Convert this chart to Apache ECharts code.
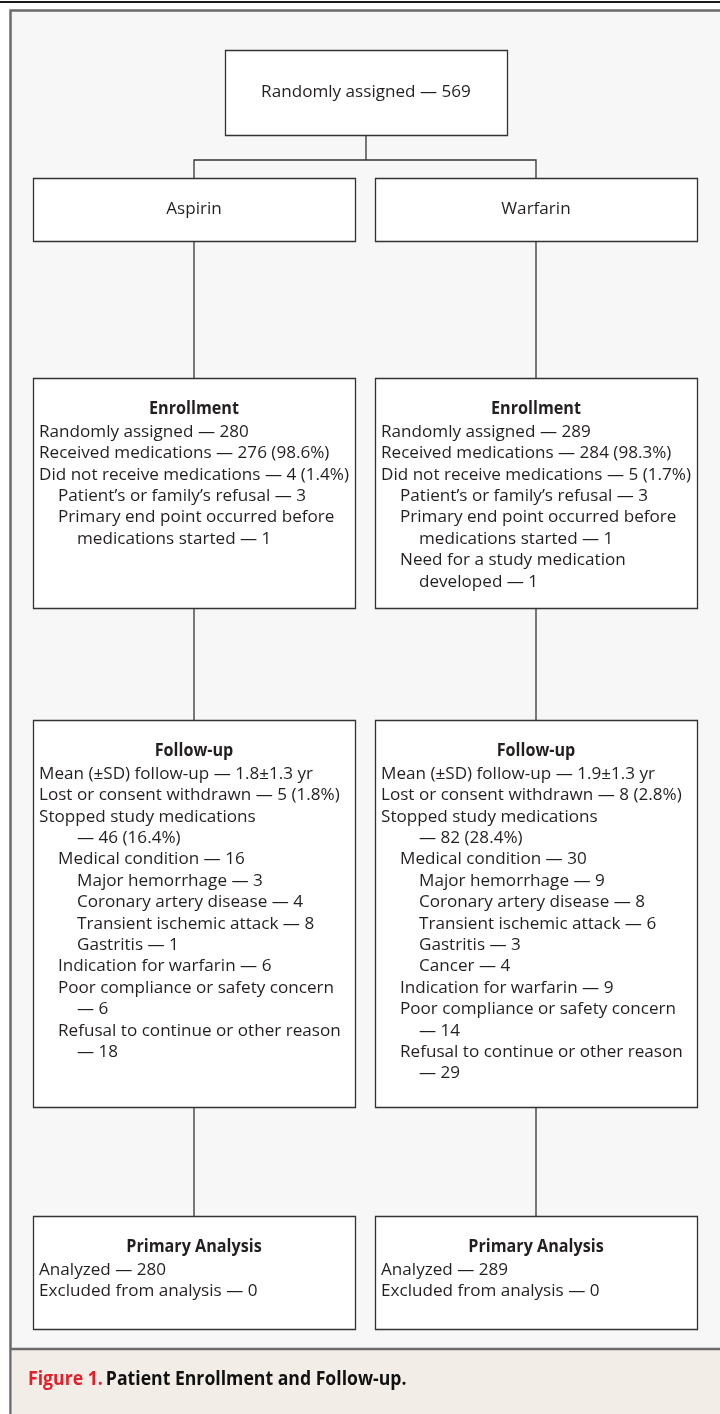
<!DOCTYPE html>
<html><head><meta charset="utf-8">
<script src="https://cdn.jsdelivr.net/npm/echarts@6/dist/echarts.min.js"></script>
<style>html,body{margin:0;padding:0;background:#fff}#chart{width:720px;height:1414px}</style>
</head><body><div id="chart"></div>
<script>
// ---------- DATA ----------
const totalRandomized = 'Randomly assigned — 569';
const armNames = ['Aspirin', 'Warfarin'];
const stageTitles = ['Enrollment', 'Follow-up', 'Primary Analysis'];
const enrollmentAspirin = [
  [0, 'Randomly assigned — 280'],
  [0, 'Received medications — 276 (98.6%)'],
  [0, 'Did not receive medications — 4 (1.4%)'],
  [1, 'Patient’s or family’s refusal — 3'],
  [1, 'Primary end point occurred before'],
  [2, 'medications started — 1']
];
const enrollmentWarfarin = [
  [0, 'Randomly assigned — 289'],
  [0, 'Received medications — 284 (98.3%)'],
  [0, 'Did not receive medications — 5 (1.7%)'],
  [1, 'Patient’s or family’s refusal — 3'],
  [1, 'Primary end point occurred before'],
  [2, 'medications started — 1'],
  [1, 'Need for a study medication'],
  [2, 'developed — 1']
];
const followUpAspirin = [
  [0, 'Mean (±SD) follow-up — 1.8±1.3 yr'],
  [0, 'Lost or consent withdrawn — 5 (1.8%)'],
  [0, 'Stopped study medications'],
  [2, '— 46 (16.4%)'],
  [1, 'Medical condition — 16'],
  [2, 'Major hemorrhage — 3'],
  [2, 'Coronary artery disease — 4'],
  [2, 'Transient ischemic attack — 8'],
  [2, 'Gastritis — 1'],
  [1, 'Indication for warfarin — 6'],
  [1, 'Poor compliance or safety concern'],
  [2, '— 6'],
  [1, 'Refusal to continue or other reason'],
  [2, '— 18']
];
const followUpWarfarin = [
  [0, 'Mean (±SD) follow-up — 1.9±1.3 yr'],
  [0, 'Lost or consent withdrawn — 8 (2.8%)'],
  [0, 'Stopped study medications'],
  [2, '— 82 (28.4%)'],
  [1, 'Medical condition — 30'],
  [2, 'Major hemorrhage — 9'],
  [2, 'Coronary artery disease — 8'],
  [2, 'Transient ischemic attack — 6'],
  [2, 'Gastritis — 3'],
  [2, 'Cancer — 4'],
  [1, 'Indication for warfarin — 9'],
  [1, 'Poor compliance or safety concern'],
  [2, '— 14'],
  [1, 'Refusal to continue or other reason'],
  [2, '— 29']
];
const analysisAspirin = [
  [0, 'Analyzed — 280'],
  [0, 'Excluded from analysis — 0']
];
const analysisWarfarin = [
  [0, 'Analyzed — 289'],
  [0, 'Excluded from analysis — 0']
];
const captionLabel = 'Figure 1.';
const captionTitle = 'Patient Enrollment and Follow-up.';

// ---------- LAYOUT ----------
const W = 720, H = 1414;
const colX = [33, 375], colW = 322;
const topBoxL = { x: 225, y: 50, w: 282, h: 85 };
const armRow = { y: 178, h: 63 };
const stageRows = [{ y: 378, h: 230 }, { y: 720, h: 387 }, { y: 1216, h: 113 }];
const branchY = 160;

const FAMILY = '"Open Sans", "Noto Sans", sans-serif';
const cv = document.createElement('canvas').getContext('2d');
function measure(text, weight, size) {
  cv.font = weight + ' ' + size + 'px ' + FAMILY;
  return cv.measureText(text).width;
}
const bodySize = 17;
const bodyScale = 310 / measure('Did not receive medications — 4 (1.4%)', 'normal', bodySize);
const headSize = 17.5;
const headScale = 90 / measure('Enrollment', 'bold', headSize);
const capSize = 19;
const capScale = 380 / measure(captionLabel + ' ' + captionTitle, 'bold', capSize);

// build boxes from data
const stageData = [
  [enrollmentAspirin, enrollmentWarfarin],
  [followUpAspirin, followUpWarfarin],
  [analysisAspirin, analysisWarfarin]
];
const boxes = [];
boxes.push({ x: topBoxL.x, y: topBoxL.y, w: topBoxL.w, h: topBoxL.h, center: totalRandomized });
armNames.forEach((n, i) => boxes.push({ x: colX[i], y: armRow.y, w: colW, h: armRow.h, center: n }));
stageRows.forEach((r, s) => {
  [0, 1].forEach(i => boxes.push({ x: colX[i], y: r.y, w: colW, h: r.h, title: stageTitles[s], lines: stageData[s][i] }));
});

// connectors
const cx = colX.map(x => x + colW / 2);
const topCx = topBoxL.x + topBoxL.w / 2;
const connectors = [
  { coords: [[topCx, topBoxL.y + topBoxL.h], [topCx, branchY]] },
  { coords: [[cx[0], armRow.y], [cx[0], branchY], [cx[1], branchY], [cx[1], armRow.y]] }
];
[0, 1].forEach(i => {
  connectors.push({ coords: [[cx[i], armRow.y + armRow.h], [cx[i], stageRows[0].y]] });
  connectors.push({ coords: [[cx[i], stageRows[0].y + stageRows[0].h], [cx[i], stageRows[1].y]] });
  connectors.push({ coords: [[cx[i], stageRows[1].y + stageRows[1].h], [cx[i], stageRows[2].y]] });
});

const TXT = '#231f20', LINE = '#333333';

function txt(text, x, y, bold, align) {
  return {
    type: 'text', x: x, y: y, scaleX: bold ? headScale : bodyScale,
    style: { text: text, x: 0, y: 0, fill: TXT, fontFamily: FAMILY, fontWeight: bold ? 'bold' : 'normal',
      fontSize: bold ? headSize : bodySize, align: align, verticalAlign: 'middle' }
  };
}

function renderBox(params, api) {
  const b = boxes[api.value(0)];
  const p1 = api.coord([b.x, b.y]);
  const p2 = api.coord([b.x + b.w, b.y + b.h]);
  const children = [{
    type: 'rect',
    shape: { x: Math.round(p1[0]) + 0.5, y: Math.round(p1[1]) + 0.5, width: Math.round(p2[0] - p1[0]), height: Math.round(p2[1] - p1[1]) },
    style: { fill: '#ffffff', stroke: LINE, lineWidth: 1.3 }
  }];
  if (b.center) {
    children.push(txt(b.center, (p1[0] + p2[0]) / 2, (p1[1] + p2[1]) / 2, false, 'center'));
  } else {
    const hy = p1[1] + 31;
    children.push(txt(b.title, (p1[0] + p2[0]) / 2, hy, true, 'center'));
    b.lines.forEach((ln, k) => {
      children.push(txt(ln[1], p1[0] + 6 + ln[0] * 19, hy + 23 + k * 21.4, false, 'left'));
    });
  }
  return { type: 'group', children };
}

const chart = echarts.init(document.getElementById('chart'), null, { renderer: 'canvas' });
chart.setOption({
  animation: false,
  backgroundColor: '#ffffff',
  grid: { left: 0, right: 0, top: 0, bottom: 0 },
  xAxis: { type: 'value', min: 0, max: W, show: false },
  yAxis: { type: 'value', min: 0, max: H, inverse: true, show: false },
  graphic: [
    { type: 'rect', z: -10, shape: { x: 0, y: 1, width: W, height: 2 }, style: { fill: '#1a1a1a' } },
    { type: 'rect', z: -10, shape: { x: 10.5, y: 10.5, width: W + 20, height: H + 20 }, style: { fill: '#f7f7f7', stroke: '#6b6b6b', lineWidth: 2.5 } },
    { type: 'rect', z: -9, shape: { x: 11.75, y: 1349, width: W, height: 80 }, style: { fill: '#f2ede7' } },
    { type: 'line', z: -9, shape: { x1: 10, y1: 1349, x2: W, y2: 1349 }, style: { stroke: '#6b6b6b', lineWidth: 2.5 } },
    { type: 'text', z: 10, x: 28, y: 1380, scaleX: capScale, style: {
      x: 0, y: 0, verticalAlign: 'middle',
      text: '{a|' + captionLabel + '} {b|' + captionTitle + '}',
      rich: {
        a: { fill: '#e51f2a', fontFamily: FAMILY, fontWeight: 'bold', fontSize: capSize },
        b: { fill: '#111111', fontFamily: FAMILY, fontWeight: 'bold', fontSize: capSize }
      }
    } }
  ],
  series: [
    {
      type: 'lines', coordinateSystem: 'cartesian2d', polyline: true, silent: true, z: 1,
      lineStyle: { color: LINE, width: 1.3, opacity: 1 },
      data: connectors
    },
    {
      type: 'custom', coordinateSystem: 'cartesian2d', silent: true, z: 2,
      data: boxes.map((b, i) => [i]),
      renderItem: renderBox
    }
  ]
});
</script>
</body></html>
